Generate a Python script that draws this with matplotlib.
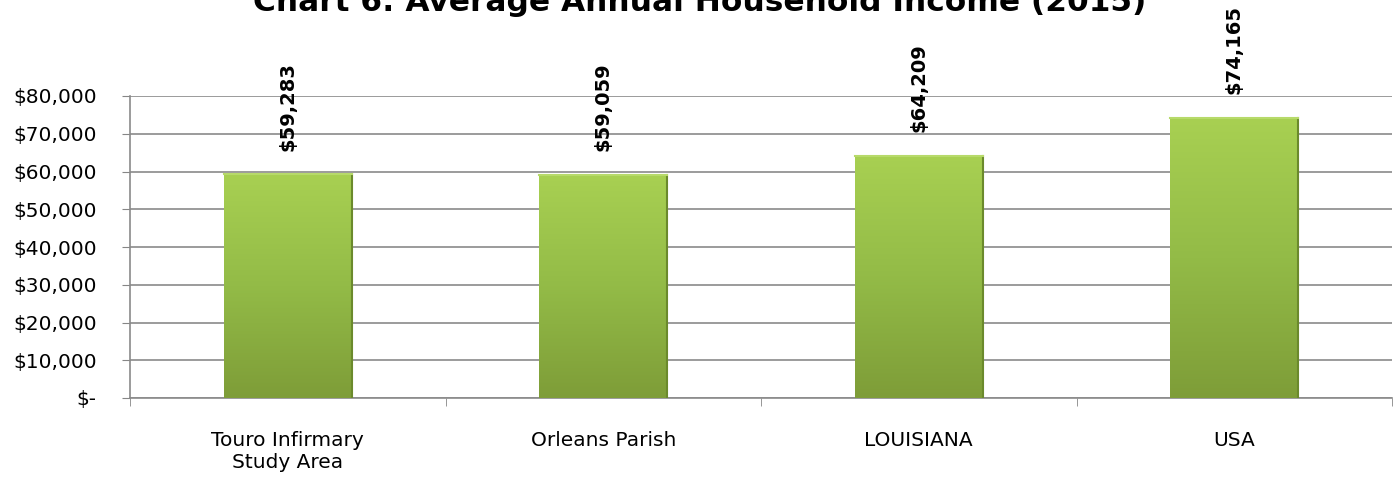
import numpy as np
import matplotlib
matplotlib.use("Agg")
import matplotlib.pyplot as plt
from matplotlib.colors import LinearSegmentedColormap

categories = ["Touro Infirmary\nStudy Area", "Orleans Parish", "LOUISIANA", "USA"]
incomes = [59283, 59059, 64209, 74165]
title = "Chart 6: Average Annual Household Income (2015)"

y_ticks = [0, 10000, 20000, 30000, 40000, 50000, 60000, 70000, 80000]
y_labels = ["$-" if v == 0 else "${:,}".format(v) for v in y_ticks]

plt.rcParams['font.family'] = ['DejaVu Sans']

fig = plt.figure(figsize=(13.99, 4.78), dpi=100)
ax = fig.add_axes([130 / 1399, 1 - 398 / 478, (1392 - 130) / 1399, (398 - 96) / 478])

x = np.arange(len(categories))
bars = ax.bar(x, incomes, width=0.405, color='#96bf48', edgecolor='none', zorder=3)

# vertical gradient on each bar, clipped to the bar shape
green = LinearSegmentedColormap.from_list('green', ['#7e9d38', '#93bb47', '#a8d052'])
grad = np.linspace(0, 1, 256).reshape(-1, 1)
for bar in bars:
    x0, y0 = bar.get_x(), bar.get_y()
    w, h = bar.get_width(), bar.get_height()
    img = ax.imshow(grad, cmap=green, origin='lower', aspect='auto',
                    extent=(x0, x0 + w, y0, y0 + h), zorder=3.5)
    img.set_clip_path(bar)
    # darker right edge, lighter top edge (bevel look)
    ax.plot([x0 + w, x0 + w], [y0, y0 + h], color='#6b8a2c', lw=1.5, zorder=4)
    ax.plot([x0, x0 + w], [y0 + h, y0 + h], color='#b7da6a', lw=1.5, zorder=4)

for xi, v in zip(x, incomes):
    ax.annotate("${:,}".format(v), (xi, v), xytext=(0, 17), textcoords='offset points',
                rotation=90, ha='center', va='bottom', fontsize=14, fontweight='bold',
                annotation_clip=False)

ax.set_xlim(-0.5, len(categories) - 0.5)
ax.set_ylim(0, 80000)
ax.set_yticks(y_ticks)
ax.set_yticklabels(y_labels, fontsize=14.5)
ax.set_xticks(x)
ax.set_xticklabels(categories, fontsize=14.5)
ax.set_xticks(np.arange(len(categories) + 1) - 0.5, minor=True)
ax.tick_params(axis='x', which='major', length=0, pad=24)
ax.tick_params(axis='x', which='minor', length=6, color='#868686', direction='out')
ax.tick_params(axis='y', length=6, color='#868686', pad=18)

ax.yaxis.grid(True, color='#8a8a8a', linewidth=1.2, zorder=0)
ax.set_axisbelow(True)
for side in ['top', 'right']:
    ax.spines[side].set_visible(False)
for side in ['left', 'bottom']:
    ax.spines[side].set_color('#8a8a8a')
    ax.spines[side].set_linewidth(1.2)

fig.text(0.5, 1 - 11 / 478, title, ha='center', va='baseline', fontsize=22.5, fontweight='bold')

fig.savefig('out.png', dpi=100)
